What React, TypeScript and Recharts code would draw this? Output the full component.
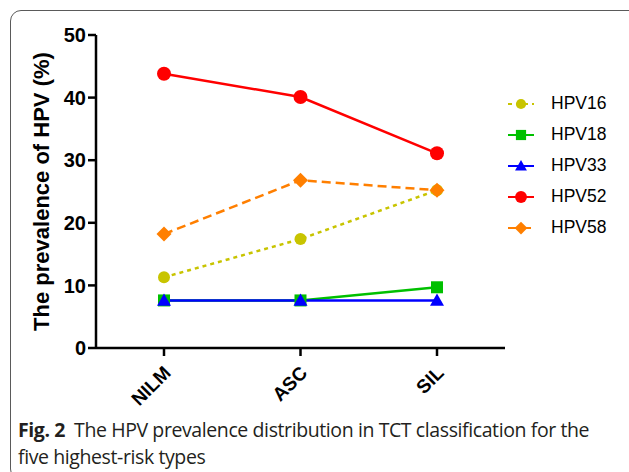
import { CartesianGrid, Legend, Line, LineChart, XAxis, YAxis } from "recharts";

const categories = ["NILM", "ASC", "SIL"];
const hpv16 = [11.3, 17.4, 25.2];
const hpv18 = [7.6, 7.6, 9.7];
const hpv33 = [7.6, 7.6, 7.6];
const hpv52 = [43.8, 40.1, 31.1];
const hpv58 = [18.2, 26.8, 25.2];
const yTicks = [0, 10, 20, 30, 40, 50];

const data = categories.map((c, i) => ({
  cat: c,
  HPV16: hpv16[i],
  HPV18: hpv18[i],
  HPV33: hpv33[i],
  HPV52: hpv52[i],
  HPV58: hpv58[i],
}));

type Shape = "circle" | "square" | "triangle" | "diamond";

const seriesDefs: { key: string; color: string; dash?: string; shape: Shape; size: number }[] = [
  { key: "HPV16", color: "#c8c400", dash: "4 4", shape: "circle", size: 6 },
  { key: "HPV18", color: "#00c000", shape: "square", size: 6 },
  { key: "HPV33", color: "#0000ff", shape: "triangle", size: 7 },
  { key: "HPV52", color: "#ff0000", shape: "circle", size: 7 },
  { key: "HPV58", color: "#ff7f00", dash: "9 5", shape: "diamond", size: 7.5 },
];

const FONT = "Liberation Sans, Arial, sans-serif";

function Marker({ cx, cy, shape, size, color }: { cx: number; cy: number; shape: Shape; size: number; color: string }) {
  if (cx == null || cy == null) return null;
  if (shape === "circle") return <circle cx={cx} cy={cy} r={size} fill={color} />;
  if (shape === "square")
    return <rect x={cx - size} y={cy - size} width={size * 2} height={size * 2} fill={color} />;
  if (shape === "triangle")
    return (
      <polygon
        points={`${cx},${cy - size} ${cx + size},${cy + size * 0.75} ${cx - size},${cy + size * 0.75}`}
        fill={color}
      />
    );
  return (
    <polygon
      points={`${cx},${cy - size} ${cx + size},${cy} ${cx},${cy + size} ${cx - size},${cy}`}
      fill={color}
    />
  );
}

function XTick({ x, y, payload }: any) {
  const ax = x + 8;
  const ay = y + 16;
  return (
    <text
      x={ax}
      y={ay}
      transform={`rotate(-45, ${ax}, ${ay})`}
      textAnchor="end"
      fontFamily={FONT}
      fontWeight="bold"
      fontSize={19}
      fill="#000"
    >
      {payload.value}
    </text>
  );
}

function LegendBox() {
  return (
    <div style={{ fontFamily: FONT, fontSize: 17.5, color: "#000" }}>
      {seriesDefs.map((s) => (
        <div key={s.key} style={{ display: "flex", alignItems: "center", height: 31 }}>
          <svg width={40} height={20}>
            <line x1={5} y1={10} x2={31} y2={10} stroke={s.color} strokeWidth={2} strokeDasharray={s.dash} />
            <Marker cx={18} cy={10} shape={s.shape} size={s.size * 0.85} color={s.color} />
          </svg>
          <span style={{ marginLeft: 8 }}>{s.key}</span>
        </div>
      ))}
    </div>
  );
}

export default function App() {
  return (
    <div style={{ position: "relative", width: 629, height: 472, background: "#fff", overflow: "hidden" }}>
      <style>{`body{margin:0}`}</style>
      <div
        style={{
          position: "absolute",
          left: 10,
          top: 10,
          width: 630,
          height: 470,
          border: "1.5px solid #5a5a5a",
          borderRadius: 11,
          boxSizing: "border-box",
        }}
      />
      <div style={{ position: "absolute", left: 0, top: 0 }}>
        <LineChart width={629} height={410} data={data} margin={{ top: 35, right: 124, bottom: 0, left: 0 }}>
          <CartesianGrid stroke="none" />
          <XAxis
            dataKey="cat"
            height={62}
            padding={{ left: 68, right: 68 }}
            axisLine={{ stroke: "#000", strokeWidth: 2.5 }}
            tickLine={{ stroke: "#000", strokeWidth: 2.5 }}
            tickSize={8}
            tick={<XTick />}
            interval={0}
          />
          <YAxis
            width={96}
            domain={[0, 50]}
            ticks={yTicks}
            axisLine={{ stroke: "#000", strokeWidth: 2.5 }}
            tickLine={{ stroke: "#000", strokeWidth: 2.5 }}
            tickSize={8}
            tick={{ fontFamily: FONT, fontWeight: "bold", fontSize: 20, fill: "#000" }}
            label={{
              value: "The prevalence of HPV (%)",
              angle: -90,
              position: "insideLeft",
              dx: 36,
              dy: 0,
              style: {
                fontFamily: FONT,
                fontWeight: "bold",
                fontSize: 22,
                fill: "#000",
                textAnchor: "middle",
              },
            }}
          />
          <Legend
            layout="vertical"
            align="center"
            verticalAlign="middle"
            wrapperStyle={{ left: 503, top: 88, width: 124 }}
            content={() => <LegendBox />}
          />
          {seriesDefs.map((s) => (
            <Line
              key={s.key}
              type="linear"
              dataKey={s.key}
              stroke={s.color}
              strokeWidth={2.5}
              strokeDasharray={s.dash}
              isAnimationActive={false}
              dot={(p: any) => (
                <Marker key={`${s.key}-${p.index}`} cx={p.cx} cy={p.cy} shape={s.shape} size={s.size} color={s.color} />
              )}
              activeDot={false}
            />
          ))}
        </LineChart>
      </div>
      <div
        style={{
          position: "absolute",
          left: 18,
          top: 416,
          width: 610,
          fontFamily: "'Open Sans', sans-serif",
          fontSize: 19.5,
          lineHeight: "27px",
          color: "#231f20",
          letterSpacing: -0.4,
          whiteSpace: "nowrap",
        }}
      >
        <span style={{ fontWeight: "bold" }}>Fig. 2</span>
        <span style={{ marginLeft: 9 }}>The HPV prevalence distribution in TCT classification for the</span>
        <br />
        five highest-risk types
      </div>
    </div>
  );
}
